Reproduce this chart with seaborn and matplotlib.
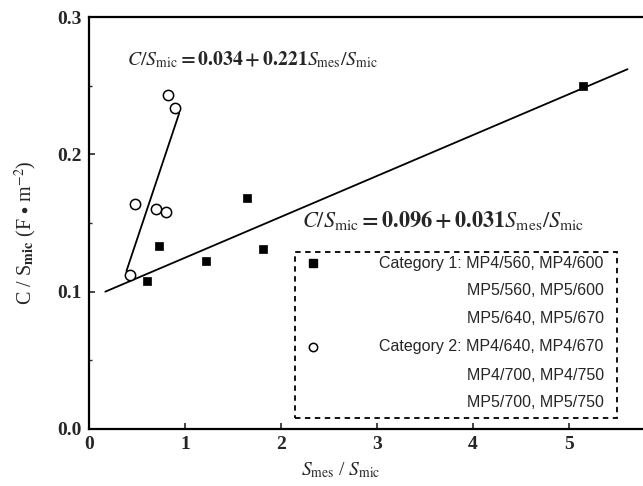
import matplotlib
matplotlib.use("Agg")
import matplotlib.pyplot as plt
import seaborn as sns
from matplotlib.patches import Rectangle
from matplotlib.ticker import MultipleLocator, FormatStrFormatter

# Category 1 (filled squares) and Category 2 (open circles)
cat1_x = [0.60, 0.73, 1.22, 1.65, 1.81, 5.15]
cat1_y = [0.108, 0.133, 0.122, 0.168, 0.131, 0.250]
cat2_x = [0.43, 0.48, 0.70, 0.80, 0.82, 0.90]
cat2_y = [0.112, 0.164, 0.160, 0.158, 0.243, 0.234]

# fitted lines (end points)
fit1_x = [0.17, 5.61]
fit1_y = [0.100, 0.262]
fit2_x = [0.39, 0.94]
fit2_y = [0.115, 0.230]

legend_rows = [
    "Category 1: MP4/560, MP4/600",
    "MP5/560, MP5/600",
    "MP5/640, MP5/670",
    "Category 2: MP4/640, MP4/670",
    "MP4/700, MP4/750",
    "MP5/700, MP5/750",
]

sns.set_style("ticks")
plt.rcParams["font.family"] = ["Liberation Serif", "DejaVu Serif"]
plt.rcParams["mathtext.fontset"] = "stix"

fig = plt.figure(figsize=(6.43, 4.86), dpi=100)
ax = fig.add_axes([0.1384, 0.1173, 0.8616, 0.8477])

sns.lineplot(x=fit1_x, y=fit1_y, color="black", lw=1.3, estimator=None, ax=ax)
sns.lineplot(x=fit2_x, y=fit2_y, color="black", lw=1.3, estimator=None, ax=ax)
sns.scatterplot(x=cat1_x, y=cat1_y, marker="s", color="black", edgecolor="black",
                s=38, zorder=3, ax=ax)
sns.scatterplot(x=cat2_x, y=cat2_y, marker="o", color="white", edgecolor="black",
                s=55, linewidth=1.1, zorder=3, ax=ax)

ax.set_xlim(0, 5.771)
ax.set_ylim(0, 0.3)
ax.xaxis.set_major_locator(MultipleLocator(1))
ax.yaxis.set_major_locator(MultipleLocator(0.1))
ax.yaxis.set_minor_locator(MultipleLocator(0.05))
ax.yaxis.set_major_formatter(FormatStrFormatter("%.1f"))
ax.tick_params(which="major", direction="in", length=4, width=1.2,
               labelsize=14, pad=5)
ax.tick_params(which="minor", direction="in", length=2, width=1.0)
for lab in ax.get_xticklabels() + ax.get_yticklabels():
    lab.set_fontweight("bold")

for side in ["left", "bottom", "top"]:
    ax.spines[side].set_linewidth(1.6)
    ax.spines[side].set_color("black")
ax.spines["right"].set_visible(False)

ax.set_xlabel(r"$S_{\rm mes}$ / $S_{\rm mic}$", fontsize=14)
ax.xaxis.set_label_coords(0.455, -0.075)
ax.set_ylabel(r"C / S$_{\mathbf{mic}}$ (F $\bullet$ m$^{-2}$)", fontsize=14.5)
ax.yaxis.set_label_coords(-0.09, 0.476)

# fit equations
ax.text(0.0686, 0.8835,
        r"$C/S_{\rm mic}$$\mathbf{=0.034+0.221}$$S_{\rm mes}/S_{\rm mic}$",
        transform=ax.transAxes, fontsize=14.2, ha="left", va="baseline")
ax.text(0.3845, 0.491,
        r"$C/S_{\rm mic}$$\mathbf{=0.096+0.031}$$S_{\rm mes}/S_{\rm mic}$",
        transform=ax.transAxes, fontsize=16, ha="left", va="baseline")

# hand-made legend box
ax.add_patch(Rectangle((0.372, 0.0267), 0.581, 0.4036, transform=ax.transAxes,
                       fill=False, edgecolor="black", lw=1.3,
                       linestyle=(0, (3, 2.5)), zorder=4))
row_y = [0.402, 0.337, 0.269, 0.200, 0.131, 0.064]
for txt, yy in zip(legend_rows, row_y):
    ax.text(0.929, yy, txt, transform=ax.transAxes, ha="right", va="center",
            fontsize=11.5, family=["Liberation Sans", "DejaVu Sans"])
ax.plot([0.405], [row_y[0]], marker="s", color="black", ms=6,
        transform=ax.transAxes, clip_on=False)
ax.plot([0.405], [row_y[3]], marker="o", mfc="white", mec="black", ms=6,
        mew=1.1, transform=ax.transAxes, clip_on=False)

fig.savefig("out.png", dpi=100)
